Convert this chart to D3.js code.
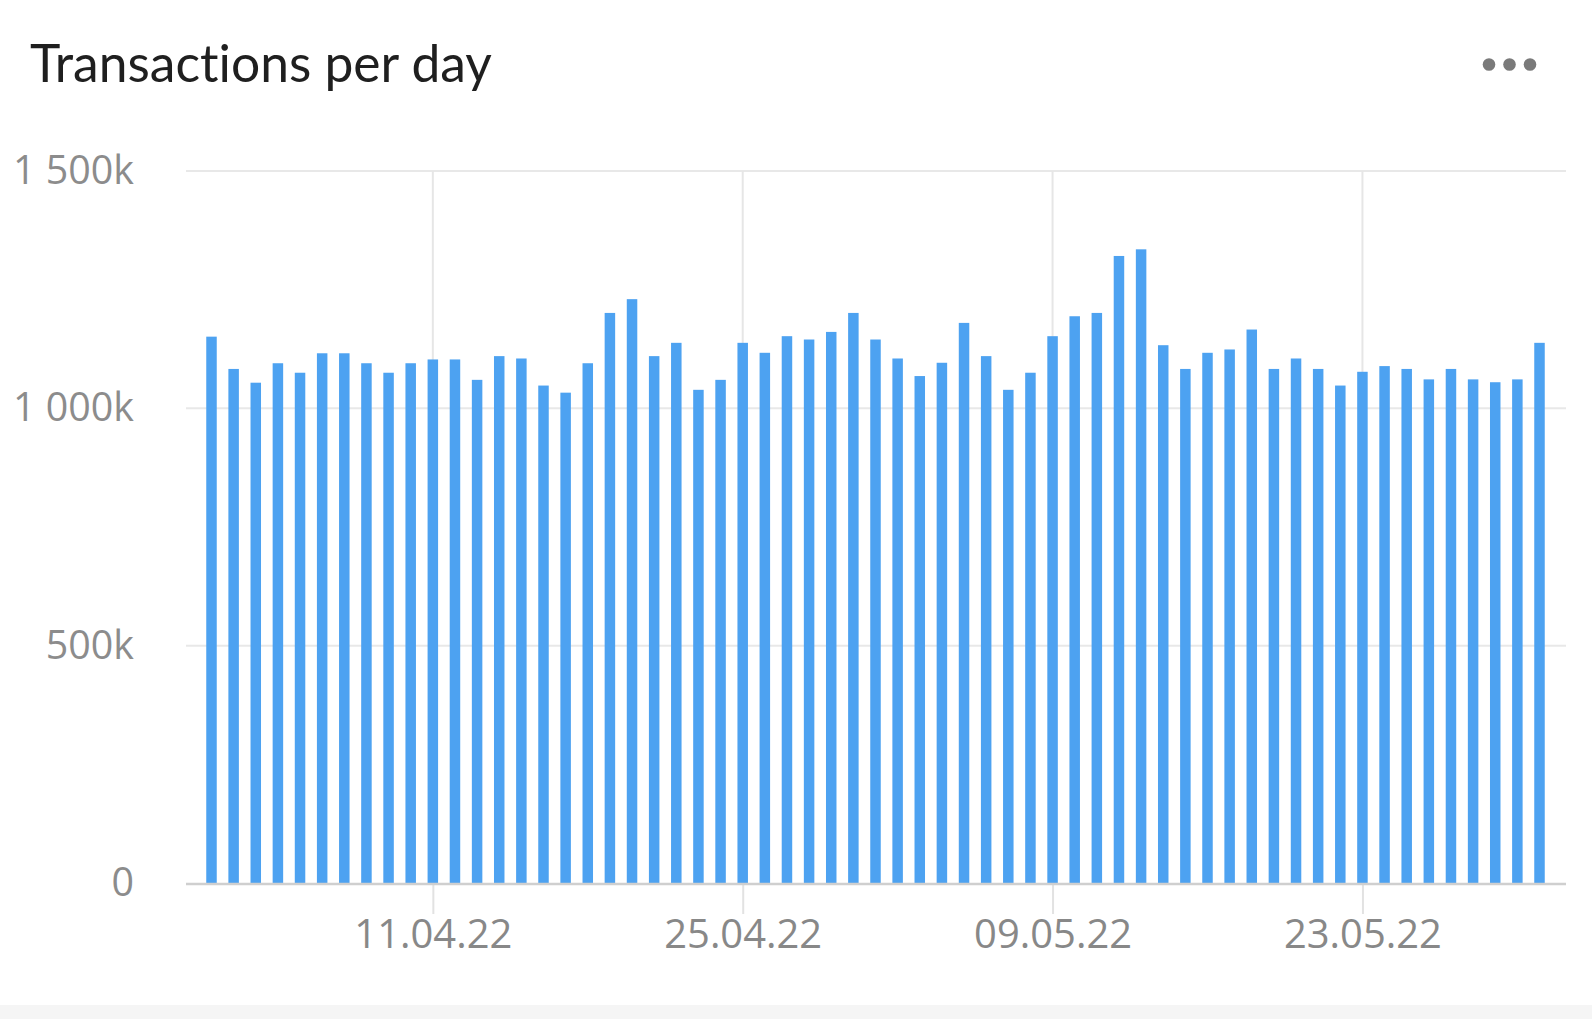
<!DOCTYPE html>
<html>
<head>
<meta charset="utf-8">
<script src="https://cdn.jsdelivr.net/npm/d3@7"></script>
<style>
  html, body { margin: 0; padding: 0; background: #ffffff; }
  svg { display: block; }
  text { font-variant-ligatures: none; }
</style>
</head>
<body>
<svg id="chart" width="1592" height="1019"></svg>
<script>
// ---- data ----
const title = "Transactions per day";

const days = [
  "2022-04-01","2022-04-02","2022-04-03","2022-04-04","2022-04-05","2022-04-06","2022-04-07","2022-04-08","2022-04-09","2022-04-10",
  "2022-04-11","2022-04-12","2022-04-13","2022-04-14","2022-04-15","2022-04-16","2022-04-17","2022-04-18","2022-04-19","2022-04-20",
  "2022-04-21","2022-04-22","2022-04-23","2022-04-24","2022-04-25","2022-04-26","2022-04-27","2022-04-28","2022-04-29","2022-04-30",
  "2022-05-01","2022-05-02","2022-05-03","2022-05-04","2022-05-05","2022-05-06","2022-05-07","2022-05-08","2022-05-09","2022-05-10",
  "2022-05-11","2022-05-12","2022-05-13","2022-05-14","2022-05-15","2022-05-16","2022-05-17","2022-05-18","2022-05-19","2022-05-20",
  "2022-05-21","2022-05-22","2022-05-23","2022-05-24","2022-05-25","2022-05-26","2022-05-27","2022-05-28","2022-05-29","2022-05-30",
  "2022-05-31"
];

const transactions = [
  1151000,1083000,1054000,1095000,1075000,1116000,1116000,1095000,1075000,1095000,
  1103000,1103000,1060000,1110000,1105000,1048000,1033000,1095000,1201000,1230000,
  1110000,1138000,1039000,1060000,1138000,1117000,1152000,1145000,1161000,1201000,
  1145000,1105000,1068000,1096000,1180000,1110000,1039000,1075000,1152000,1194000,
  1201000,1321000,1335000,1133000,1083000,1117000,1124000,1166000,1083000,1105000,
  1083000,1048000,1077000,1089000,1083000,1061000,1083000,1061000,1055000,1061000,
  1138000
];

const yTickValues = [0, 500000, 1000000, 1500000];
const xTickDates = ["2022-04-11", "2022-04-25", "2022-05-09", "2022-05-23"];

// ---- setup ----
const parse = d3.timeParse("%Y-%m-%d");
const data = days.map((d, i) => ({ date: parse(d), value: transactions[i] }));

const svg = d3.select("#chart");
const plotLeft = 186, plotRight = 1566, plotTop = 171, plotBottom = 883;

const x = d3.scaleTime()
  .domain([parse(days[0]), parse(days[days.length - 1])])
  .range([211.5, 1539.5]);

const y = d3.scaleLinear()
  .domain([0, 1500000])
  .range([plotBottom, plotTop]);

const barW = 10.5;
const barColor = "#4da2f1";

// bottom band
svg.append("rect").attr("x", 0).attr("y", 1005).attr("width", 1592).attr("height", 14).attr("fill", "#f5f5f5");

// title
const titleText = svg.append("text")
  .attr("x", 30).attr("y", 82)
  .attr("font-family", "Lato, 'Open Sans', sans-serif")
  .attr("font-size", 48)
  .attr("fill", "#1f1f1f")
  .text(title);
{
  const w = titleText.node().getComputedTextLength();
  titleText.attr("font-size", 48 * 462 / w);
}

// menu dots
svg.append("g").selectAll("circle")
  .data([0, 1, 2])
  .join("circle")
  .attr("cx", d => 1489 + d * 20.5)
  .attr("cy", 64.5)
  .attr("r", 6.3)
  .attr("fill", "#7a7a7a");

// horizontal gridlines
svg.append("g").selectAll("line")
  .data(yTickValues.filter(v => v > 0))
  .join("line")
  .attr("x1", plotLeft).attr("x2", plotRight)
  .attr("y1", d => y(d)).attr("y2", d => y(d))
  .attr("stroke", "#e8e8e8")
  .attr("stroke-width", 2);

// vertical gridlines
svg.append("g").selectAll("line")
  .data(xTickDates.map(parse))
  .join("line")
  .attr("x1", d => x(d)).attr("x2", d => x(d))
  .attr("y1", plotTop).attr("y2", plotBottom)
  .attr("stroke", "#e6e6e6")
  .attr("stroke-width", 2);

// bars
svg.append("g").selectAll("rect")
  .data(data)
  .join("rect")
  .attr("x", d => x(d.date) - barW / 2)
  .attr("width", barW)
  .attr("y", d => y(d.value))
  .attr("height", d => y(0) - y(d.value))
  .attr("fill", barColor);

// y-axis labels
const locale = d3.formatLocale({ decimal: ".", thousands: " ", grouping: [3], currency: ["", ""] });
const fmtK = locale.format(",d");
const yFormat = v => v === 0 ? "0" : fmtK(v / 1000) + "k";

const yAxis = d3.axisLeft(y).tickValues(yTickValues).tickFormat(yFormat).tickSize(0).tickPadding(0);
const yG = svg.append("g").attr("transform", "translate(134,0)").call(yAxis);
yG.select(".domain").remove();
yG.selectAll("text")
  .attr("font-family", "'Open Sans', sans-serif")
  .attr("font-size", 34)
  .attr("fill", "#8c8c8c");
{
  const t = yG.selectAll("text").filter(d => d === 1500000).node();
  const w = t.getComputedTextLength();
  yG.selectAll("text").attr("font-size", 34 * 121 / w);
}

// x-axis
const xAxis = d3.axisBottom(x)
  .tickValues(xTickDates.map(parse))
  .tickFormat(d3.timeFormat("%d.%m.%y"))
  .tickSizeInner(31).tickSizeOuter(0).tickPadding(6);
const xG = svg.append("g").attr("transform", `translate(0,${plotBottom})`).call(xAxis);
xG.select(".domain").remove();
xG.selectAll(".tick line").attr("stroke", "#e2e2e2").attr("stroke-width", 2);
xG.selectAll("text")
  .attr("font-family", "'Open Sans', sans-serif")
  .attr("font-size", 34)
  .attr("fill", "#888888");
{
  const t = xG.select("text").node();
  const w = t.getComputedTextLength();
  xG.selectAll("text").attr("font-size", 34 * 158 / w);
}

// baseline axis line
svg.append("line")
  .attr("x1", plotLeft).attr("x2", plotRight)
  .attr("y1", plotBottom + 1).attr("y2", plotBottom + 1)
  .attr("stroke", "#cfcfcf")
  .attr("stroke-width", 2.5);
</script>
</body>
</html>
